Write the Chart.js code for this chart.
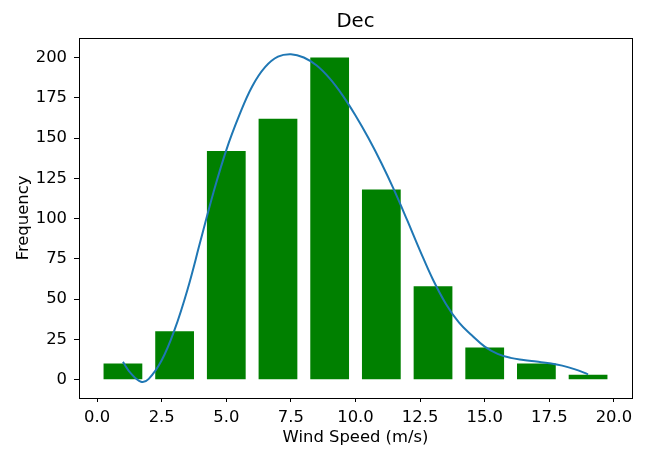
<!DOCTYPE html>
<html>
<head>
<meta charset="utf-8">
<script src="https://cdn.jsdelivr.net/npm/chart.js@4/dist/chart.umd.min.js"></script>
<style>
  html, body { margin: 0; padding: 0; background: #fff; }
  #wrap { width: 646px; height: 449px; }
</style>
</head>
<body>
<div id="wrap"><canvas id="c" width="646" height="449"></canvas></div>
<script>
// Histogram of December wind speeds (bin centres, counts)
const binCenters = [1, 3, 5, 7, 9, 11, 13, 15, 17, 19];
const counts = [10, 30, 142, 162, 200, 118, 58, 20, 10, 3];

// Smoothed density curve, scaled to frequency
const curveX = [1.0, 1.3, 1.7, 2.0, 2.5, 3.0, 3.5, 4.0, 4.5, 5.0, 5.5, 6.0, 6.5, 7.0, 7.5,
                8.0, 8.5, 9.0, 9.5, 10.0, 10.5, 11.0, 11.5, 12.0, 12.5, 13.0, 13.5, 14.0,
                14.5, 15.0, 15.5, 16.0, 16.5, 17.0, 17.5, 18.0, 18.5, 19.0];
const curveY = [11, 4, -1.3, 0.5, 12, 31, 56, 86, 116, 142.5, 164, 182, 194, 200.5, 202,
                200, 195, 187, 176.5, 164, 150, 134.5, 117.5, 99, 80, 62, 47, 35.5,
                27.5, 20.5, 16, 13.5, 12.2, 11.2, 10.2, 8.7, 6.4, 3.3];

const xTicks = [0, 2.5, 5, 7.5, 10, 12.5, 15, 17.5, 20];
const yTicks = [0, 25, 50, 75, 100, 125, 150, 175, 200];

const TITLE = 'Dec';
const FONT = 'DejaVu Sans';
const LABEL_SIZE = 16.4;
const TITLE_SIZE = 19.7;

// Box around the plotting area plus a title centred over it
const frame = {
  id: 'frame',
  afterDatasetsDraw(chart) {
    const a = chart.chartArea, ctx = chart.ctx;
    ctx.save();
    ctx.strokeStyle = '#000';
    ctx.lineWidth = 1;
    ctx.strokeRect(Math.round(a.left) + 0.5, Math.round(a.top) + 0.5,
                   Math.round(a.right - a.left), Math.round(a.bottom - a.top));
    ctx.fillStyle = '#000';
    ctx.font = TITLE_SIZE + 'px "' + FONT + '"';
    ctx.textAlign = 'center';
    ctx.textBaseline = 'middle';
    ctx.fillText(TITLE, (a.left + a.right) / 2, a.top - 16.5);
    ctx.restore();
  }
};

new Chart(document.getElementById('c'), {
  type: 'bar',
  data: {
    datasets: [
      {
        type: 'line',
        data: curveX.map((x, i) => ({ x, y: curveY[i] })),
        borderColor: '#1f77b4',
        borderWidth: 2,
        pointRadius: 0,
        fill: false,
        tension: 0.4,
        order: 0
      },
      {
        type: 'bar',
        data: binCenters.map((x, i) => ({ x, y: counts[i] })),
        backgroundColor: '#008000',
        borderWidth: 0,
        barPercentage: 0.75,
        categoryPercentage: 1.0,
        order: 1
      }
    ]
  },
  options: {
    responsive: false,
    animation: false,
    layout: { padding: { left: 0, right: 14, top: 38, bottom: 0 } },
    plugins: {
      legend: { display: false },
      tooltip: { enabled: false },
      title: { display: false }
    },
    scales: {
      x: {
        type: 'linear',
        offset: false,
        min: -0.7,
        max: 20.7,
        afterFit(s) { s.height = 51; },
        afterBuildTicks(s) { s.ticks = xTicks.map(v => ({ value: v })); },
        ticks: {
          color: '#000',
          font: { family: FONT, size: LABEL_SIZE },
          padding: 6,
          maxRotation: 0,
          autoSkip: false,
          callback: v => Number(v).toFixed(1)
        },
        grid: { display: true, offset: false, drawOnChartArea: false, drawTicks: true, tickLength: 4, color: '#000' },
        border: { display: false },
        title: {
          display: true,
          text: 'Wind Speed (m/s)',
          color: '#000',
          font: { family: FONT, size: LABEL_SIZE },
          padding: { top: 0, bottom: 1.2 }
        }
      },
      y: {
        type: 'linear',
        min: -11.4,
        max: 212.1,
        afterFit(s) { s.width = 79; },
        afterBuildTicks(s) { s.ticks = yTicks.map(v => ({ value: v })); },
        ticks: {
          color: '#000',
          font: { family: FONT, size: LABEL_SIZE },
          padding: 7,
          autoSkip: false
        },
        grid: { display: true, drawOnChartArea: false, drawTicks: true, tickLength: 5, color: '#000' },
        border: { display: false },
        title: {
          display: true,
          text: 'Frequency',
          color: '#000',
          font: { family: FONT, size: LABEL_SIZE },
          padding: { top: 14, bottom: 0 }
        }
      }
    }
  },
  plugins: [frame]
});
</script>
</body>
</html>
